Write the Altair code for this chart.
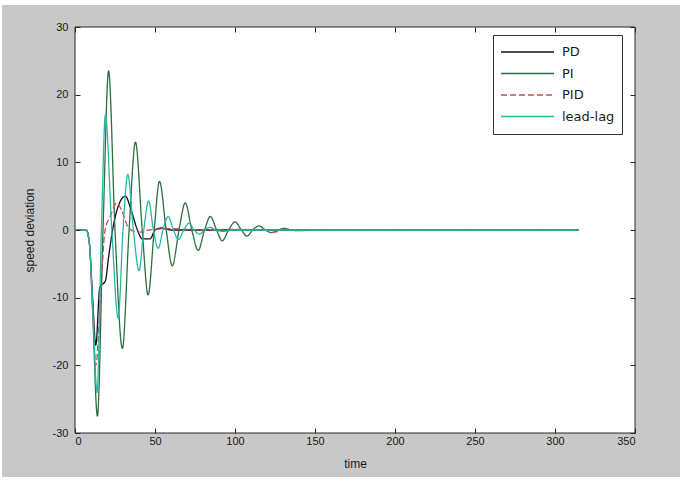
import altair as alt
import pandas as pd

SERIES = ["PD", "PI", "PID", "lead-lag"]
COLORS = ["#0d0d2a", "#2e6e40", "#c0504d", "#2bb5a5"]
DASHES = [[1, 0], [1, 0], [6, 3], [1, 0]]

X_TICKS = [0, 50, 100, 150, 200, 250, 300, 350]
Y_TICKS = [-30, -20, -10, 0, 10, 20, 30]

pd_t = [0, 7, 9, 11, 13, 15.5, 19, 21, 23.5, 27, 31.5, 35, 39, 42, 47, 50, 54, 60, 315]
pd_y = [0, 0, -2, -10, -17, -8.5, -7.5, -4, 0, 3.5, 5, 3, 0, -1.3, -1.3, 0, 0.3, 0, 0]

pi_t = [0, 7, 9, 11, 14, 17.5, 21, 25, 29.6, 33.8, 37.8, 42, 45.7, 49.5, 52.8, 57,
        60.8, 65, 68.9, 73, 77, 81, 84.6, 88.5, 92, 96, 100, 104, 107.5, 111, 115,
        119, 123, 127, 131, 135, 140, 150, 315]
pi_y = [0, 0, -2, -12, -27.5, 0, 23.5, 0, -17.5, 0, 13, 0, -9.6, 0, 7.2, 0,
        -5.3, 0, 4.0, 0, -3.0, 0, 2.0, 0, -1.6, 0, 1.2, 0, -0.9, 0, 0.6,
        0, -0.4, 0, 0.25, 0, -0.1, 0, 0]

pid_t = [0, 7, 9, 11, 13, 15.5, 18.8, 22, 26, 29, 33, 37, 41, 46, 60, 80, 100, 118,
         124, 130, 140, 315]
pid_y = [0, 0, -2, -11, -20, -12, 0, 2, 4, 3, 0.5, -0.2, -0.3, 0, 0.2, 0, 0.1, 0,
         -0.35, 0, 0, 0]

ll_t = [0, 7, 9, 11, 13.8, 16.5, 19, 23, 27, 30, 33, 36.5, 40, 43, 46, 49, 52, 55,
        58.3, 61.5, 64.7, 68, 71.2, 74.5, 77.7, 81, 84.2, 88, 92, 100, 315]
ll_y = [0, 0, -2, -11, -24, 0, 17, 0, -13, 0, 8.2, 0, -6, 0, 4.3, 0, -2.7, 0,
        2, 0, -1.4, 0, 1, 0, -0.6, 0, 0.4, 0, -0.2, 0, 0]

frames = []
for name, ts, ys in [("PD", pd_t, pd_y), ("PI", pi_t, pi_y),
                     ("PID", pid_t, pid_y), ("lead-lag", ll_t, ll_y)]:
    frames.append(pd.DataFrame({"time": ts, "value": ys, "series": name,
                                "k": list(range(len(ts)))}))
df = pd.concat(frames, ignore_index=True)

W, H = 560, 406
FONT = "Liberation Sans"
TXT = "#1a1a1a"

xscale = alt.Scale(domain=[0, 350], nice=False)
yscale = alt.Scale(domain=[-30, 30], nice=False)

one = pd.DataFrame({"a": [0]})

bg = alt.Chart(one).mark_rect(color="#c8c8c8").encode(
    x=alt.value(-73), x2=alt.value(605), y=alt.value(-22), y2=alt.value(450)
)
plotbg = alt.Chart(one).mark_rect(fill="white", stroke="#262626", strokeWidth=1).encode(
    x=alt.value(0), x2=alt.value(W), y=alt.value(0), y2=alt.value(H)
)

legend = alt.Legend(
    title=None, orient="none", legendX=418, legendY=8,
    fillColor="white", strokeColor="#333333", padding=7,
    symbolType="stroke", symbolSize=2809, symbolStrokeWidth=1.5,
    clipHeight=20, rowPadding=1.5, labelFontSize=13, labelOffset=7,
    labelFont="DejaVu Sans", labelColor=TXT, zindex=2,
)

lines = alt.Chart(df).mark_line(strokeWidth=1.3, interpolate="monotone").encode(
    x=alt.X("time:Q", scale=xscale, title="time",
            axis=alt.Axis(values=X_TICKS, orient="bottom", offset=-5, tickSize=5,
                          domain=False, grid=False, labelPadding=2,
                          labelExpr="toString(datum.value)",
                          labelFontSize=11, labelFont=FONT, labelColor=TXT,
                          tickColor="#262626", titleFont=FONT, titleFontSize=12,
                          titleFontWeight="normal", titleColor=TXT, titlePadding=12,
                          zindex=1)),
    y=alt.Y("value:Q", scale=yscale, title="speed deviation",
            axis=alt.Axis(values=Y_TICKS, orient="left", offset=-5, tickSize=5,
                          domain=False, grid=False, labelPadding=7,
                          labelExpr="toString(datum.value)",
                          labelFontSize=11, labelFont=FONT, labelColor=TXT,
                          tickColor="#262626", titleFont=FONT, titleFontSize=12,
                          titleFontWeight="normal", titleColor=TXT, titlePadding=16,
                          zindex=1)),
    color=alt.Color("series:N", scale=alt.Scale(domain=SERIES, range=COLORS), legend=legend),
    strokeDash=alt.StrokeDash("series:N", scale=alt.Scale(domain=SERIES, range=DASHES),
                              legend=legend),
    order="k:Q",
)

ghost = alt.Chart(df).mark_point(opacity=0).encode(
    x=alt.X("time:Q", scale=xscale, title=None,
            axis=alt.Axis(values=X_TICKS, orient="top", offset=-5, tickSize=5,
                          domain=False, grid=False, labels=False,
                          tickColor="#262626", zindex=1)),
    y=alt.Y("value:Q", scale=yscale, title=None,
            axis=alt.Axis(values=Y_TICKS, orient="right", offset=-5, tickSize=5,
                          domain=False, grid=False, labels=False,
                          tickColor="#262626", zindex=1)),
)

chart = alt.layer(bg, plotbg, lines, ghost).resolve_axis(
    x="independent", y="independent"
).properties(
    width=W, height=H,
    autosize=alt.AutoSizeParams(type="none"),
    padding={"left": 75, "top": 27, "right": 50, "bottom": 49},
    background="white",
).configure_view(stroke=None)

chart.save("out.html", embed_options={"renderer": "svg", "actions": False})
